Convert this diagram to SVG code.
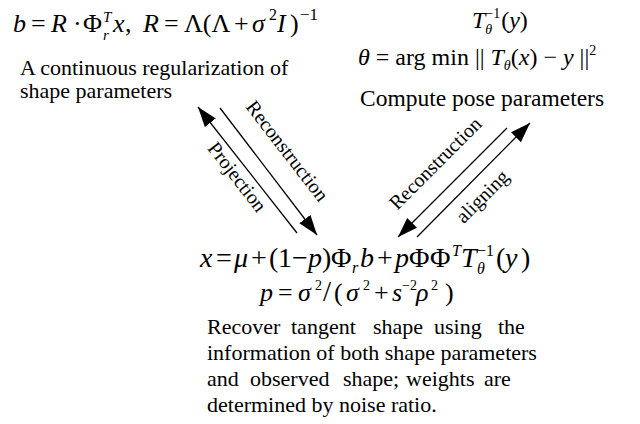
<svg xmlns="http://www.w3.org/2000/svg" width="640" height="424" viewBox="0 0 640 424">
<style>
text{font-family:"Liberation Serif","Times New Roman",serif;fill:#000}
.i{font-style:italic}
.f{font-size:26px}
.f2{font-size:24px}
.f3{font-size:28px}
.t{font-size:22px}
.lab{font-size:20px}
.ar{stroke:#000;stroke-width:1.3;fill:none}
</style>
<defs>
<marker id="ah" markerUnits="userSpaceOnUse" markerWidth="22" markerHeight="16" refX="20" refY="7" orient="auto">
<path d="M0,0 L20,7 L0,14 Z" fill="#000"/>
</marker>
</defs>
<g id="shape-params">
<text class="f" y="32"><tspan class="i" x="13">b</tspan><tspan x="31">=</tspan><tspan class="i" x="51">R</tspan><tspan x="73">·</tspan><tspan x="83">Φ</tspan><tspan class="i" font-size="15" x="103" y="22">T</tspan><tspan class="i" font-size="15" x="103" y="40">r</tspan><tspan class="i" x="113" y="32">x</tspan><tspan x="125">,</tspan><tspan class="i" x="143">R</tspan><tspan x="164">=</tspan><tspan x="184">Λ(Λ</tspan><tspan x="234">+</tspan><tspan class="i" x="252">σ</tspan><tspan font-size="16" x="269" y="20">2</tspan><tspan class="i" x="277" y="32">I</tspan><tspan x="290">)</tspan><tspan font-size="17" x="300" y="20">−1</tspan></text>
<text class="t" x="20" y="75">A continuous regularization of</text>
<text class="t" x="20" y="98">shape parameters</text>
</g>
<g id="pose-params">
<text class="f2" x="472" y="28"><tspan class="i">T</tspan><tspan font-size="14" dy="-10">−1</tspan><tspan class="i" font-size="14" dx="-15" dy="16">θ</tspan><tspan dx="9" dy="-6">(</tspan><tspan class="i">y</tspan>)</text>
<text class="f2" x="358" y="65"><tspan class="i">θ</tspan> = arg min || <tspan class="i">T</tspan><tspan class="i" font-size="14" dy="5">θ</tspan><tspan dy="-5">(</tspan><tspan class="i">x</tspan>) − <tspan class="i">y</tspan> ||<tspan font-size="14" dy="-10">2</tspan></text>
<text x="360" y="106" font-size="23.5">Compute pose parameters</text>
</g>
<g id="tangent-shape">
<text class="f3" y="267"><tspan class="i" x="200">x</tspan><tspan x="216">=</tspan><tspan class="i" x="234">μ</tspan><tspan x="251">+</tspan><tspan x="269">(</tspan><tspan x="278">1</tspan><tspan x="292">−</tspan><tspan class="i" x="308">p</tspan><tspan x="322">)</tspan><tspan x="331">Φ</tspan><tspan class="i" font-size="16" x="352" y="273">r</tspan><tspan class="i" x="360" y="267">b</tspan><tspan x="377">+</tspan><tspan class="i" x="395">p</tspan><tspan x="409">Φ</tspan><tspan x="430">Φ</tspan><tspan class="i" font-size="16" x="452" y="256">T</tspan><tspan class="i" x="461" y="267">T</tspan><tspan font-size="16" x="477" y="256">−1</tspan><tspan class="i" font-size="16" x="477" y="274">θ</tspan><tspan x="496" y="267">(</tspan><tspan class="i" x="505">y</tspan><tspan x="521">)</tspan></text>
<text font-size="26" y="301"><tspan class="i" x="260">p</tspan><tspan x="278">=</tspan><tspan class="i" x="298">σ</tspan><tspan font-size="14" x="315" y="290">2</tspan><tspan font-size="29" x="323" y="301">/</tspan><tspan x="334">(</tspan><tspan class="i" x="346">σ</tspan><tspan font-size="14" x="363" y="290">2</tspan><tspan x="374" y="301">+</tspan><tspan class="i" x="392">s</tspan><tspan font-size="14" x="402" y="290">−2</tspan><tspan class="i" x="416" y="301">ρ</tspan><tspan font-size="14" x="431" y="290">2</tspan><tspan x="445" y="301">)</tspan></text>
<text class="t" y="334"><tspan x="207">Recover</tspan><tspan x="291">tangent</tspan><tspan x="373">shape</tspan><tspan x="434">using</tspan><tspan x="498">the</tspan></text>
<text class="t" x="207" y="360">information of both shape parameters</text>
<text class="t" y="386"><tspan x="207">and</tspan><tspan x="250">observed</tspan><tspan x="343">shape;</tspan><tspan x="406">weights</tspan><tspan x="484">are</tspan></text>
<text class="t" x="207" y="412">determined by noise ratio.</text>
</g>
<g id="connectors">
<line class="ar" x1="297" y1="233" x2="198" y2="107" marker-end="url(#ah)"/>
<line class="ar" x1="220" y1="108" x2="317" y2="235" marker-end="url(#ah)"/>
<line class="ar" x1="507" y1="128" x2="398" y2="237" marker-end="url(#ah)"/>
<line class="ar" x1="417" y1="237" x2="530" y2="123" marker-end="url(#ah)"/>
<text class="lab" text-anchor="middle" transform="translate(282,155) rotate(52.3)">Reconstruction</text>
<text class="lab" text-anchor="middle" transform="translate(232,181) rotate(52.3)">Projection</text>
<text class="lab" text-anchor="middle" transform="translate(440,168) rotate(-45)">Reconstruction</text>
<text class="lab" text-anchor="middle" transform="translate(487,201) rotate(-45)">aligning</text>
</g>
</svg>
